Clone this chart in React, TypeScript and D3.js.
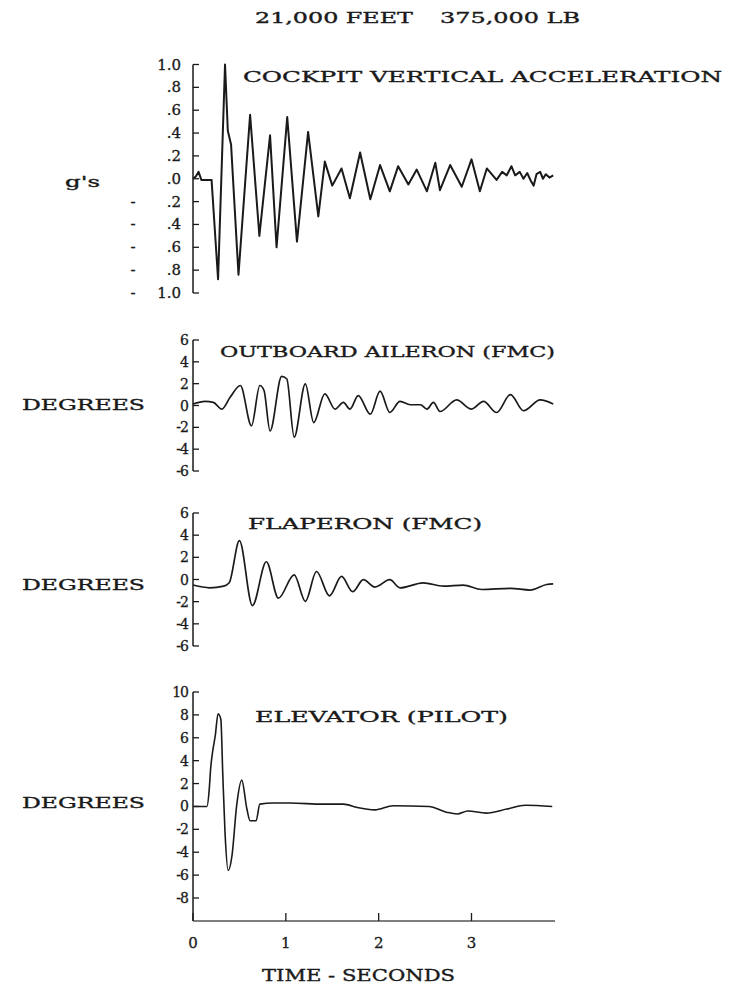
import React from "react";
import * as d3 from "d3";

const W = 735;
const H = 992;
const FONT = "'DejaVu Serif', 'Liberation Serif', serif";
const INK = "#1a1a1a";

// cockpit vertical acceleration (g's) vs time (s)
const accelT = [0, 0.03, 0.06, 0.09, 0.2, 0.27, 0.345, 0.375, 0.41, 0.49, 0.615, 0.715, 0.83, 0.9, 1.015, 1.12, 1.24, 1.35, 1.42, 1.5, 1.6, 1.69, 1.8, 1.91, 2.015, 2.12, 2.21, 2.32, 2.41, 2.52, 2.61, 2.66, 2.77, 2.895, 3.0, 3.09, 3.165, 3.27, 3.33, 3.38, 3.43, 3.47, 3.52, 3.56, 3.6, 3.64, 3.67, 3.7, 3.74, 3.77, 3.8, 3.84, 3.88];
const accelG = [0, 0.02, 0.06, -0.01, -0.01, -0.88, 1.0, 0.42, 0.3, -0.84, 0.56, -0.5, 0.38, -0.6, 0.54, -0.55, 0.41, -0.33, 0.15, -0.06, 0.09, -0.17, 0.23, -0.18, 0.12, -0.11, 0.11, -0.05, 0.08, -0.11, 0.14, -0.1, 0.12, -0.07, 0.17, -0.11, 0.09, -0.01, 0.06, 0.03, 0.11, 0.03, 0.06, 0.0, 0.05, -0.02, -0.06, 0.04, 0.06, 0.0, 0.04, 0.01, 0.03];

// outboard aileron (deg)
const aileronT = [0, 0.13, 0.22, 0.31, 0.4, 0.51, 0.63, 0.72, 0.765, 0.83, 0.955, 1.01, 1.09, 1.21, 1.3, 1.42, 1.53, 1.62, 1.69, 1.78, 1.91, 2.015, 2.12, 2.23, 2.34, 2.45, 2.52, 2.59, 2.66, 2.84, 3.0, 3.13, 3.27, 3.42, 3.56, 3.74, 3.88];
const aileronD = [0.14, 0.38, 0.29, -0.33, 0.75, 1.83, -1.87, 1.83, 1.37, -2.33, 2.67, 2.45, -2.89, 1.99, -1.56, 1.06, -0.33, 0.29, -0.33, 0.91, -0.79, 1.31, -0.64, 0.38, 0.07, 0.07, -0.33, 0.29, -0.55, 0.51, -0.33, 0.38, -0.64, 1.0, -0.48, 0.51, 0.14];

// flaperon (deg)
const flaperonT = [0, 0.18, 0.33, 0.39, 0.5, 0.64, 0.79, 0.92, 1.09, 1.21, 1.33, 1.47, 1.6, 1.72, 1.835, 1.96, 2.12, 2.23, 2.48, 2.7, 2.91, 3.11, 3.42, 3.63, 3.81, 3.88];
const flaperonD = [-0.5, -0.75, -0.6, -0.3, 3.5, -2.35, 1.6, -1.68, 0.42, -1.97, 0.72, -1.47, 0.28, -1.1, -0.02, -0.68, -0.02, -0.75, -0.3, -0.6, -0.5, -0.9, -0.8, -0.95, -0.45, -0.4];

// elevator (deg)
const elevatorT = [0, 0.15, 0.175, 0.19, 0.21, 0.24, 0.27, 0.3, 0.32, 0.345, 0.38, 0.42, 0.47, 0.525, 0.58, 0.615, 0.68, 0.72, 0.865, 1.045, 1.4, 1.62, 1.77, 1.96, 2.155, 2.54, 2.73, 2.845, 2.96, 3.16, 3.38, 3.58, 3.87];
const elevatorD = [0, 0, 1.5, 3.3, 4.7, 6.2, 8.1, 7.6, 3.0, -2.3, -5.6, -4.3, 0.06, 2.3, -0.2, -1.25, -1.25, 0.2, 0.3, 0.3, 0.2, 0.2, -0.1, -0.3, 0.06, 0, -0.5, -0.66, -0.4, -0.58, -0.23, 0.1, 0];

const accelTicks = [1, 0.8, 0.6, 0.4, 0.2, 0, -0.2, -0.4, -0.6, -0.8, -1];
const degTicks6 = [6, 4, 2, 0, -2, -4, -6];
const degTicks10 = [10, 8, 6, 4, 2, 0, -2, -4, -6, -8];
const timeTicks = [0, 1, 2, 3];

const AXIS_X = 193;
const x = d3.scaleLinear().domain([0, 3]).range([AXIS_X, 471.5]);

type PanelProps = {
  t: number[];
  v: number[];
  y: d3.ScaleLinear<number, number>;
  ticks: number[];
  curve: d3.CurveFactory;
  width: number;
  axisBottom?: number;
  gLabels?: boolean;
};

const Panel = ({ t, v, y, ticks, curve, width, axisBottom, gLabels }: PanelProps) => {
  const line = d3
    .line<number>()
    .x((_, i) => x(t[i]))
    .y((d) => y(d))
    .curve(curve);
  const top = y(y.domain()[1]);
  const bottom = axisBottom ?? y(y.domain()[0]);
  return (
    <g>
      <line x1={AXIS_X} x2={AXIS_X} y1={top} y2={bottom} stroke={INK} strokeWidth={1.5} />
      {ticks.map((d) => (
        <g key={d}>
          <line x1={AXIS_X} x2={AXIS_X + 6} y1={y(d)} y2={y(d)} stroke={INK} strokeWidth={1.3} />
          <g stroke={INK} strokeWidth={0.3}>
            {gLabels ? (
              <>
                {d < 0 && (
                  <text x={133} y={y(d) + 5} textAnchor="middle" fontSize={15}>
                    -
                  </text>
                )}
                <text x={181} y={y(d) + 5} textAnchor="end" fontSize={15}>
                  {Math.abs(d) === 1 ? "1.0" : "." + Math.round(Math.abs(d) * 10)}
                </text>
              </>
            ) : (
              <text x={188} y={y(d) + 5} textAnchor="end" fontSize={14} letterSpacing={-1}>
                {d < 0 ? "-" + Math.abs(d) : String(d)}
              </text>
            )}
          </g>
        </g>
      ))}
      <path d={line(v) ?? ""} fill="none" stroke={INK} strokeWidth={width} strokeLinejoin="round" />
    </g>
  );
};

const Label = ({ x0, y0, len, size = 15, children }: { x0: number; y0: number; len: number; size?: number; children: string }) => (
  <text x={x0} y={y0} fontSize={size} textLength={len} lengthAdjust="spacingAndGlyphs">
    {children}
  </text>
);

export default function App() {
  const yAccel = d3.scaleLinear().domain([-1, 1]).range([293, 64.5]);
  const yAileron = d3.scaleLinear().domain([-6, 6]).range([471, 340]);
  const yFlaperon = d3.scaleLinear().domain([-6, 6]).range([646, 513]);
  const yElevator = d3.scaleLinear().domain([-8, 10]).range([898, 692]);
  const baseY = 921;

  return (
    <svg
      width={W}
      height={H}
      style={{ position: "absolute", left: 0, top: 0, background: "#fff" }}
      fontFamily={FONT}
      fill={INK}
      stroke="none"
    >
      <g stroke={INK} strokeWidth={0.35}>
        <Label x0={255} y0={23} len={158}>21,000 FEET</Label>
        <Label x0={440} y0={23} len={140}>375,000 LB</Label>
        <Label x0={243} y0={82} len={479}>COCKPIT VERTICAL ACCELERATION</Label>
        <Label x0={65} y0={187} len={35}>g's</Label>
        <Label x0={220} y0={357} len={335}>OUTBOARD AILERON (FMC)</Label>
        <Label x0={22} y0={410} len={123}>DEGREES</Label>
        <Label x0={248} y0={529} len={234}>FLAPERON (FMC)</Label>
        <Label x0={22} y0={590} len={123}>DEGREES</Label>
        <Label x0={255} y0={722} len={253}>ELEVATOR (PILOT)</Label>
        <Label x0={22} y0={808} len={123}>DEGREES</Label>
        <Label x0={262} y0={981} len={193} size={16}>TIME - SECONDS</Label>
      </g>

      <g>
        <Panel t={accelT} v={accelG} y={yAccel} ticks={accelTicks} curve={d3.curveLinear} width={2} gLabels />
        <Panel t={aileronT} v={aileronD} y={yAileron} ticks={degTicks6} curve={d3.curveMonotoneX} width={1.7} />
        <Panel t={flaperonT} v={flaperonD} y={yFlaperon} ticks={degTicks6} curve={d3.curveMonotoneX} width={1.7} />
        <Panel t={elevatorT} v={elevatorD} y={yElevator} ticks={degTicks10} curve={d3.curveMonotoneX} width={1.6} axisBottom={baseY} />
      </g>

      {/* time axis */}
      <line x1={AXIS_X} x2={555} y1={baseY} y2={baseY} stroke="#555" strokeWidth={1.6} />
      {timeTicks.map((d) => (
        <g key={d}>
          <line x1={x(d)} x2={x(d)} y1={baseY} y2={baseY - 8} stroke={INK} strokeWidth={1.3} />
          <text x={x(d)} y={948} textAnchor="middle" fontSize={15} stroke={INK} strokeWidth={0.3}>
            {d}
          </text>
        </g>
      ))}
    </svg>
  );
}
